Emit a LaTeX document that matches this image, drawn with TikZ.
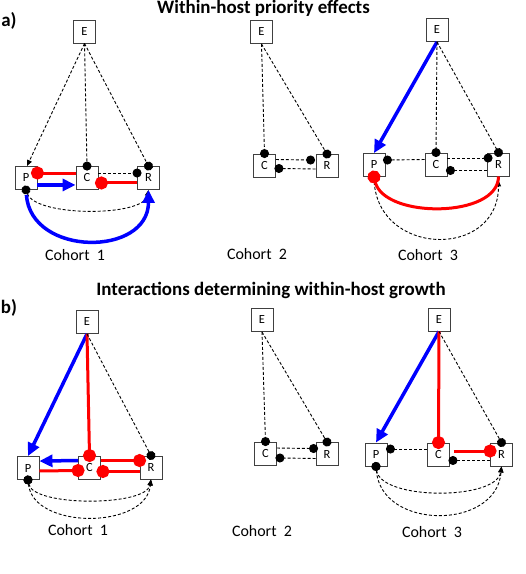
\documentclass[tikz,border=0pt]{standalone}
\usepackage{fontspec}
\setmainfont{Carlito}
\usepackage{tikz}
\usetikzlibrary{arrows.meta}
\definecolor{inhib}{HTML}{FF0000}
\definecolor{facil}{HTML}{0000FF}
\definecolor{boxline}{HTML}{404040}

\begin{document}
\begin{tikzpicture}[x=1bp, y=-1bp,
  box/.style={rectangle, draw=boxline, fill=white, line width=0.9bp,
    minimum width=22bp, minimum height=23bp, inner sep=0pt,
    font=\fontsize{12.5}{12.5}\selectfont},
  heading/.style={font=\fontsize{19}{22}\selectfont\bfseries, anchor=base},
  panel/.style={font=\fontsize{19}{22}\selectfont\bfseries},
  cohort/.style={font=\fontsize{16}{19}\selectfont},
  dline/.style={line width=0.9bp, dash pattern=on 3bp off 2bp},
  dotend/.style={-{Circle[length=9bp]}, shorten >=-4.5bp},
  tipend/.style={-{Triangle[length=6bp,width=5bp]}},
  dotarc/.style={dline, {Circle[length=9bp]}-{Triangle[length=6bp,width=5bp]},
    shorten <=-4.5bp},
  redend/.style={draw=inhib, line width=3bp, -{Circle[length=13bp]},
    shorten >=-6.5bp},
  redstart/.style={draw=inhib, line width=3bp, {Circle[length=13bp]}-,
    shorten <=-6.5bp},
  bluearrow/.style={draw=facil, line width=3.5bp,
    -{Triangle[length=13bp,width=12bp]}}
]
\useasboundingbox (0,0) rectangle (526,574);

\node[heading] (titlea) at (263.5,14) {Within-host priority effects};
\node[panel] (labela) at (9,21) {a)};
\node[heading] (titleb) at (271,295) {Interactions determining within-host growth};
\node[panel] (labelb) at (9,308) {b)};

\node[box] (a1E) at (84.5,31.5) {E};
\node[box] (a1P) at (26,178) {P};
\node[box] (a1C) at (87,178) {C};
\node[box] (a1R) at (148.5,178) {R};
\node[cohort] (a1lab) at (75,255) {Cohort\ \ 1};

\node[box] (a2E) at (261.5,32) {E};
\node[box] (a2C) at (264.5,165.5) {C};
\node[box] (a2R) at (327,166) {R};
\node[cohort] (a2lab) at (257,254) {Cohort\ \ 2};

\node[box] (a3E) at (437,30) {E};
\node[box] (a3P) at (374,165) {P};
\node[box] (a3C) at (436,164.5) {C};
\node[box] (a3R) at (498.5,164.5) {R};
\node[cohort] (a3lab) at (428,255) {Cohort\ \ 3};

\node[box] (b1E) at (87,322) {E};
\node[box] (b1P) at (28,468) {P};
\node[box] (b1C) at (89.5,467.5) {C};
\node[box] (b1R) at (151,467.5) {R};
\node[cohort] (b1lab) at (78,530.5) {Cohort\ \ 1};

\node[box] (b2E) at (262,320) {E};
\node[box] (b2C) at (265.5,453.5) {C};
\node[box] (b2R) at (327,454) {R};
\node[cohort] (b2lab) at (262,531) {Cohort\ \ 2};

\node[box] (b3E) at (439,319.5) {E};
\node[box] (b3P) at (376,454.5) {P};
\node[box] (b3C) at (438.5,454.5) {C};
\node[box] (b3R) at (501.5,454.5) {R};
\node[cohort] (b3lab) at (432,532) {Cohort\ \ 3};

\draw[dline, tipend] (a1E.south) -- ([xshift=1pt]a1P.north);
\draw[dline, dotend] (a1E.south) -- (a1C.north);
\draw[dline, dotend] (a1E.south) -- (a1R.north);
\draw[dline, dotend] ([yshift=5pt]a1C.east) -- ([yshift=5pt]a1R.west);
\draw[redend] ([yshift=5pt]a1C.west) -- ([yshift=5pt]a1P.east);
\draw[redend] ([yshift=-5pt]a1R.west) -- ([xshift=3pt,yshift=-5pt]a1C.east);
\draw[bluearrow] ([yshift=-7pt]a1P.east) -- ([yshift=-7pt]a1C.west);
\draw[dotarc] (a1P.south) .. controls +(10,27) and +(-5,27) .. (a1R.south);
\draw[bluearrow, shorten <=5pt] (a1P.south) .. controls +(5,67) and +(0,67) .. (a1R.south);

\draw[dline, dotend] (a2E.south) -- (a2C.north);
\draw[dline, dotend] (a2E.south) -- (a2R.north);
\draw[dline, dotend] ([yshift=6pt]a2C.east) -- ([xshift=-5pt,yshift=6pt]a2R.west);
\draw[dline, dotend] ([yshift=-3pt]a2R.west) -- ([xshift=3pt,yshift=-3pt]a2C.east);

\draw[bluearrow] (a3E.south) -- (a3P.north);
\draw[dline, dotend] (a3E.south) -- (a3C.north);
\draw[dline, dotend] (a3E.south) -- (a3R.north);
\draw[dline, dotend] ([yshift=5pt]a3C.west) -- ([xshift=2pt,yshift=5pt]a3P.east);
\draw[dline, dotend] ([yshift=6.5pt]a3C.east) -- ([xshift=1pt,yshift=6.5pt]a3R.west);
\draw[dline, dotend] ([yshift=-6pt]a3R.west) -- ([xshift=3pt,yshift=-6pt]a3C.east);
\draw[dline, tipend] (a3P.south) .. controls +(0,80) and +(0,80) .. ([yshift=-4pt]a3R.south);
\draw[redstart] (a3P.south) .. controls +(10,42) and +(0,42) .. (a3R.south);

\draw[bluearrow] (b1E.south) -- (b1P.north);
\draw[redend] (b1E.south) -- (b1C.north);
\draw[dline, dotend] (b1E.south) -- (b1R.north);
\draw[bluearrow] ([yshift=7pt]b1C.west) -- ([yshift=7pt]b1P.east);
\draw[redend] ([yshift=-3pt]b1P.east) -- ([yshift=-3pt]b1C.west);
\draw[redend] ([yshift=7pt]b1C.east) -- ([yshift=7pt]b1R.west);
\draw[redend] ([yshift=-4pt]b1R.west) -- ([xshift=2pt,yshift=-4pt]b1C.east);
\draw[dotarc] (b1P.south) .. controls +(5,27) and +(-5,27) .. (b1R.south);
\draw[dotarc] (b1P.south) .. controls +(5,50) and +(-5,50) .. (b1R.south);

\draw[dline, dotend] (b2E.south) -- (b2C.north);
\draw[dline, dotend] (b2E.south) -- (b2R.north);
\draw[dline, dotend] ([yshift=5.5pt]b2C.east) -- ([xshift=-2pt,yshift=5.5pt]b2R.west);
\draw[dline, dotend] ([yshift=-4.5pt]b2R.west) -- ([xshift=3pt,yshift=-4.5pt]b2C.east);

\draw[bluearrow] (b3E.south) -- (b3P.north);
\draw[redend] (b3E.south) -- (b3C.north);
\draw[dline, dotend] (b3E.south) -- (b3R.north);
\draw[dline, dotend] ([yshift=5.5pt]b3C.west) -- ([xshift=3pt,yshift=5.5pt]b3P.east);
\draw[redend] ([xshift=4pt,yshift=3.5pt]b3C.east) -- ([yshift=3.5pt]b3R.west);
\draw[dline, dotend] ([yshift=-6pt]b3R.west) -- ([xshift=3pt,yshift=-6pt]b3C.east);
\draw[dotarc] (b3P.south) .. controls +(5,34) and +(-5,34) .. (b3R.south);
\draw[dotarc] (b3P.south) .. controls +(5,64) and +(-5,64) .. (b3R.south);

\end{tikzpicture}
\end{document}
